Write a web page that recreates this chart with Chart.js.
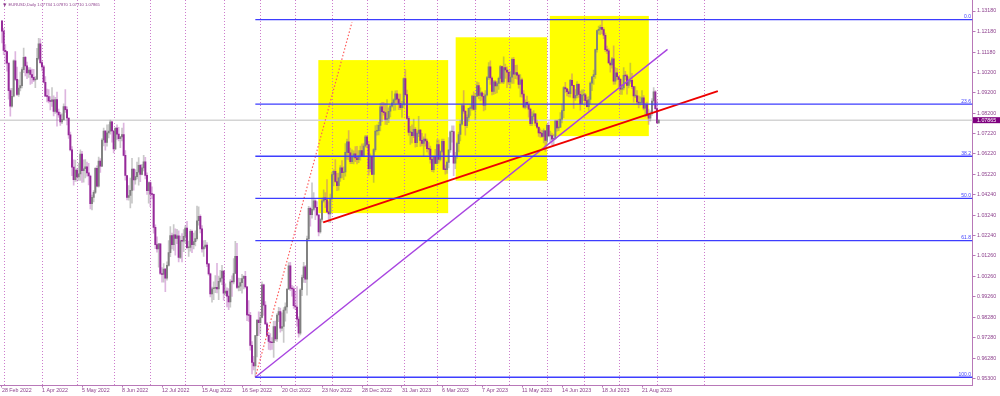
<!DOCTYPE html>
<html>
<head>
<meta charset="utf-8">
<title>EURUSD Daily</title>
<script src="https://cdn.jsdelivr.net/npm/chart.js@4.4.1/dist/chart.umd.min.js"></script>
<style>
  html, body { margin: 0; padding: 0; background: #ffffff; }
  canvas { display: block; }
</style>
</head>
<body>
<canvas id="chart" width="1000" height="396"></canvas>
<script>
// EURUSD, Daily  (28 Feb 2022 - 4 Sep 2023), one line per week

const opens = [
  1.1270, 1.1220, 1.1126, 1.1120, 1.1064,
  1.0930, 1.0855, 1.0903, 1.1075, 1.0985,
  1.0912, 1.0943, 1.0955, 1.1033, 1.1092,
  1.1051, 1.1016, 1.1030, 1.1009, 1.0995,
  1.0983, 1.0986, 1.1087, 1.1158, 1.1067,
  1.1046, 1.0971, 1.0903, 1.0902, 1.0880,
  1.0878, 1.0885, 1.0829, 1.0887, 1.0826,
  1.0812, 1.0778, 1.0789, 1.0853, 1.0838,
  1.0797, 1.0715, 1.0642, 1.0558, 1.0497,
  1.0544, 1.0510, 1.0525, 1.0622, 1.0541,
  1.0550, 1.0560, 1.0530, 1.0515, 1.0380,
  1.0411, 1.0435, 1.0552, 1.0465, 1.0587,
  1.0563, 1.0690, 1.0733, 1.0678, 1.0725,
  1.0733, 1.0778, 1.0734, 1.0647, 1.0748,
  1.0719, 1.0697, 1.0705, 1.0716, 1.0615,
  1.0517, 1.0411, 1.0420, 1.0445, 1.0548,
  1.0496, 1.0512, 1.0533, 1.0567, 1.0522,
  1.0554, 1.0584, 1.0518, 1.0443, 1.0483,
  1.0426, 1.0425, 1.0265, 1.0181, 1.0160,
  1.0185, 1.0040, 1.0036, 1.0062, 1.0018,
  1.0080, 1.0142, 1.0225, 1.0180, 1.0228,
  1.0211, 1.0223, 1.0119, 1.0200, 1.0198,
  1.0221, 1.0261, 1.0166, 1.0167, 1.0246,
  1.0181, 1.0195, 1.0210, 1.0297, 1.0319,
  1.0257, 1.0160, 1.0170, 1.0178, 1.0087,
  1.0038, 0.9941, 0.9966, 0.9968, 0.9973,
  0.9965, 1.0002, 1.0018, 1.0052, 0.9944,
  0.9954, 0.9930, 0.9902, 1.0000, 0.9999,
  1.0040, 1.0124, 0.9972, 0.9979, 0.9996,
  1.0016, 1.0026, 0.9975, 0.9839, 0.9836,
  0.9690, 0.9607, 0.9590, 0.9738, 0.9814,
  0.9801, 0.9826, 0.9985, 0.9886, 0.9795,
  0.9739, 0.9709, 0.9705, 0.9703, 0.9782,
  0.9722, 0.9838, 0.9855, 0.9774, 0.9782,
  0.9862, 0.9878, 0.9964, 1.0077, 0.9967,
  0.9965, 0.9883, 0.9877, 0.9818, 0.9750,
  0.9961, 1.0020, 1.0073, 1.0013, 1.0209,
  1.0357, 1.0326, 1.0352, 1.0394, 1.0362,
  1.0325, 1.0243, 1.0303, 1.0394, 1.0408,
  1.0399, 1.0340, 1.0330, 1.0405, 1.0522,
  1.0537, 1.0488, 1.0468, 1.0506, 1.0555,
  1.0531, 1.0535, 1.0630, 1.0681, 1.0628,
  1.0584, 1.0606, 1.0623, 1.0603, 1.0594,
  1.0613, 1.0638, 1.0611, 1.0661,
  1.0705, 1.0668, 1.0550, 1.0606, 1.0523,
  1.0643, 1.0733, 1.0736, 1.0761, 1.0852,
  1.0828, 1.0823, 1.0790, 1.0795, 1.0830,
  1.0855, 1.0871, 1.0885, 1.0915, 1.0889,
  1.0868, 1.0848, 1.0863, 1.0989, 1.0911,
  1.0795, 1.0727, 1.0727, 1.0711, 1.0742,
  1.0677, 1.0722, 1.0738, 1.0688, 1.0673,
  1.0694, 1.0685, 1.0648, 1.0646, 1.0596,
  1.0546, 1.0606, 1.0576, 1.0668, 1.0596,
  1.0634, 1.0683, 1.0547, 1.0546, 1.0581,
  1.0642, 1.0730, 1.0731, 1.0577, 1.0610,
  1.0672, 1.0717, 1.0767, 1.0857, 1.0830,
  1.0760, 1.0800, 1.0844, 1.0844, 1.0904,
  1.0839, 1.0903, 1.0955, 1.0907, 1.0920,
  1.0903, 1.0860, 1.0910, 1.0994, 1.1046,
  1.0992, 1.0927, 1.0973, 1.0953, 1.0965,
  1.0990, 1.1048, 1.0973, 1.1043, 1.1031,
  1.1020, 1.0973, 1.0996, 1.1083, 1.1010,
  1.1018, 1.1006, 1.0961, 1.0983, 1.0914,
  1.0850, 1.0873, 1.0862, 1.0840, 1.0769,
  1.0805, 1.0817, 1.0772, 1.0752, 1.0725,
  1.0723, 1.0707, 1.0735, 1.0688, 1.0762,
  1.0710, 1.0712, 1.0694, 1.0698, 1.0782,
  1.0749, 1.0752, 1.0792, 1.0833, 1.0945,
  1.0939, 1.0925, 1.0915, 1.0980, 1.0956,
  1.0895, 1.0907, 1.0961, 1.0912, 1.0867,
  1.0908, 1.0910, 1.0882, 1.0852, 1.0887,
  1.0967, 1.0998, 1.1008, 1.1130, 1.1223,
  1.1229, 1.1238, 1.1228, 1.1200, 1.1130,
  1.1124, 1.1065, 1.1056, 1.1085, 1.0976,
  1.1017, 1.0998, 1.0985, 1.0938, 1.0943,
  1.1005, 1.1002, 1.0956, 1.0975, 1.0980,
  1.0950, 1.0905, 1.0905, 1.0875, 1.0870,
  1.0872, 1.0895, 1.0845, 1.0862, 1.0810,
  1.0796, 1.0818, 1.0880, 1.0924, 1.0843,
  1.07734
];

const highs = [
  1.1270, 1.1234, 1.1154, 1.1122, 1.1065,
  1.0940, 1.0942, 1.1080, 1.1121, 1.1045,
  1.0983, 1.1021, 1.1043, 1.1138, 1.1097,
  1.1069, 1.1043, 1.1043, 1.1035, 1.1034,
  1.0999, 1.1136, 1.1185, 1.1183, 1.1075,
  1.1053, 1.0999, 1.0938, 1.0936, 1.0901,
  1.0945, 1.0905, 1.0898, 1.0923, 1.0840,
  1.0825, 1.0817, 1.0866, 1.0936, 1.0851,
  1.0797, 1.0728, 1.0658, 1.0594, 1.0592,
  1.0551, 1.0578, 1.0642, 1.0635, 1.0593,
  1.0595, 1.0583, 1.0577, 1.0519, 1.0422,
  1.0444, 1.0556, 1.0564, 1.0607, 1.0599,
  1.0697, 1.0748, 1.0737, 1.0764, 1.0765,
  1.0787, 1.0781, 1.0737, 1.0749, 1.0764,
  1.0752, 1.0708, 1.0748, 1.0773, 1.0638,
  1.0517, 1.0468, 1.0505, 1.0601, 1.0550,
  1.0546, 1.0583, 1.0605, 1.0572, 1.0572,
  1.0615, 1.0606, 1.0530, 1.0487, 1.0487,
  1.0462, 1.0428, 1.0277, 1.0219, 1.0186,
  1.0185, 1.0069, 1.0089, 1.0065, 1.0097,
  1.0200, 1.0268, 1.0237, 1.0278, 1.0257,
  1.0255, 1.0248, 1.0222, 1.0234, 1.0254,
  1.0274, 1.0294, 1.0198, 1.0254, 1.0252,
  1.0237, 1.0248, 1.0368, 1.0365, 1.0326,
  1.0274, 1.0200, 1.0202, 1.0191, 1.0090,
  1.0042, 0.9974, 0.9999, 1.0030, 1.0090,
  1.0028, 1.0055, 1.0080, 1.0054, 0.9990,
  0.9970, 0.9967, 1.0010, 1.0029, 1.0113,
  1.0197, 1.0187, 1.0018, 1.0017, 1.0036,
  1.0030, 1.0051, 0.9976, 0.9908, 0.9851,
  0.9709, 0.9637, 0.9739, 0.9815, 0.9854,
  0.9852, 0.9999, 0.9989, 0.9904, 0.9802,
  0.9754, 0.9748, 0.9728, 0.9807, 0.9808,
  0.9845, 0.9875, 0.9872, 0.9849, 0.9874,
  0.9897, 0.9965, 1.0093, 1.0094, 0.9983,
  0.9976, 0.9954, 0.9976, 0.9829, 0.9967,
  1.0033, 1.0095, 1.0080, 1.0222, 1.0367,
  1.0363, 1.0481, 1.0434, 1.0400, 1.0390,
  1.0330, 1.0307, 1.0407, 1.0448, 1.0434,
  1.0497, 1.0390, 1.0427, 1.0533, 1.0545,
  1.0595, 1.0528, 1.0529, 1.0565, 1.0590,
  1.0560, 1.0673, 1.0695, 1.0736, 1.0651,
  1.0642, 1.0637, 1.0658, 1.0659, 1.0638,
  1.0660, 1.0671, 1.0673, 1.0713,
  1.0713, 1.0684, 1.0623, 1.0612, 1.0648,
  1.0760, 1.0764, 1.0776, 1.0868, 1.0874,
  1.0874, 1.0869, 1.0887, 1.0847, 1.0860,
  1.0928, 1.0890, 1.0929, 1.0930, 1.0913,
  1.0914, 1.0878, 1.0993, 1.1033, 1.0933,
  1.0805, 1.0756, 1.0764, 1.0792, 1.0750,
  1.0730, 1.0805, 1.0742, 1.0722, 1.0705,
  1.0720, 1.0694, 1.0677, 1.0660, 1.0612,
  1.0612, 1.0645, 1.0692, 1.0691, 1.0637,
  1.0694, 1.0695, 1.0568, 1.0587, 1.0702,
  1.0735, 1.0759, 1.0759, 1.0630, 1.0680,
  1.0729, 1.0787, 1.0862, 1.0930, 1.0835,
  1.0812, 1.0845, 1.0858, 1.0909, 1.0925,
  1.0916, 1.0973, 1.0969, 1.0944, 1.0926,
  1.0917, 1.0930, 1.1000, 1.1067, 1.1075,
  1.0997, 1.0980, 1.0980, 1.0975, 1.0996,
  1.1053, 1.1050, 1.1095, 1.1060, 1.1046,
  1.1030, 1.1023, 1.1090, 1.1092, 1.1054,
  1.1055, 1.1012, 1.1008, 1.0992, 1.0930,
  1.0885, 1.0904, 1.0877, 1.0845, 1.0827,
  1.0833, 1.0818, 1.0787, 1.0755, 1.0745,
  1.0737, 1.0745, 1.0736, 1.0768, 1.0779,
  1.0733, 1.0724, 1.0717, 1.0787, 1.0787,
  1.0791, 1.0823, 1.0865, 1.0950, 1.0971,
  1.0940, 1.0935, 1.0985, 1.1012, 1.0956,
  1.0935, 1.0975, 1.0965, 1.0928, 1.0934,
  1.0935, 1.0917, 1.0899, 1.0901, 1.0973,
  1.0999, 1.1030, 1.1133, 1.1225, 1.1245,
  1.1250, 1.1276, 1.1237, 1.1210, 1.1147,
  1.1134, 1.1075, 1.1092, 1.1149, 1.1043,
  1.1039, 1.1000, 1.0990, 1.0960, 1.1042,
  1.1024, 1.1010, 1.0997, 1.1065, 1.1015,
  1.0950, 1.0950, 1.0930, 1.0905, 1.0900,
  1.0930, 1.0906, 1.0870, 1.0875, 1.0840,
  1.0832, 1.0892, 1.0945, 1.0930, 1.0882,
  1.07870
];

const lows = [
  1.1163, 1.1105, 1.1060, 1.1025, 1.0889,
  1.0806, 1.0850, 1.0900, 1.0979, 1.0906,
  1.0902, 1.0929, 1.0944, 1.1018, 1.1002,
  1.0988, 1.0995, 1.0961, 1.0966, 1.0974,
  1.0945, 1.0984, 1.1080, 1.1060, 1.1027,
  1.0968, 1.0902, 1.0875, 1.0870, 1.0837,
  1.0853, 1.0807, 1.0820, 1.0757, 1.0800,
  1.0761, 1.0770, 1.0787, 1.0824, 1.0764,
  1.0698, 1.0637, 1.0516, 1.0470, 1.0489,
  1.0490, 1.0493, 1.0493, 1.0483, 1.0485,
  1.0506, 1.0514, 1.0471, 1.0354, 1.0350,
  1.0389, 1.0429, 1.0462, 1.0460, 1.0532,
  1.0560, 1.0661, 1.0640, 1.0660, 1.0700,
  1.0719, 1.0679, 1.0627, 1.0643, 1.0693,
  1.0685, 1.0653, 1.0686, 1.0613, 1.0495,
  1.0398, 1.0397, 1.0359, 1.0382, 1.0446,
  1.0475, 1.0500, 1.0470, 1.0487, 1.0520,
  1.0540, 1.0500, 1.0425, 1.0383, 1.0366,
  1.0405, 1.0236, 1.0161, 1.0144, 1.0071,
  1.0034, 0.9998, 0.9998, 0.9952, 1.0008,
  1.0076, 1.0122, 1.0160, 1.0153, 1.0129,
  1.0185, 1.0097, 1.0112, 1.0096, 1.0146,
  1.0188, 1.0160, 1.0123, 1.0149, 1.0141,
  1.0160, 1.0175, 1.0202, 1.0276, 1.0238,
  1.0144, 1.0123, 1.0162, 1.0074, 1.0032,
  0.9926, 0.9901, 0.9913, 0.9947, 0.9946,
  0.9913, 0.9997, 0.9986, 0.9910, 0.9932,
  0.9877, 0.9864, 0.9876, 0.9929, 0.9990,
  1.0040, 0.9966, 0.9955, 0.9956, 0.9945,
  0.9965, 0.9969, 0.9811, 0.9807, 0.9667,
  0.9551, 0.9571, 0.9535, 0.9634, 0.9738,
  0.9750, 0.9824, 0.9836, 0.9792, 0.9739,
  0.9670, 0.9668, 0.9670, 0.9632, 0.9713,
  0.9710, 0.9806, 0.9755, 0.9761, 0.9705,
  0.9808, 0.9847, 0.9963, 0.9957, 0.9930,
  0.9870, 0.9864, 0.9784, 0.9730, 0.9741,
  0.9932, 0.9997, 0.9995, 0.9935, 1.0200,
  1.0271, 1.0310, 1.0345, 1.0302, 1.0320,
  1.0223, 1.0237, 1.0290, 1.0387, 1.0361,
  1.0338, 1.0290, 1.0288, 1.0398, 1.0466,
  1.0484, 1.0443, 1.0446, 1.0488, 1.0505,
  1.0497, 1.0514, 1.0595, 1.0593, 1.0575,
  1.0575, 1.0574, 1.0585, 1.0573, 1.0580,
  1.0592, 1.0610, 1.0608, 1.0655,
  1.0653, 1.0519, 1.0535, 1.0521, 1.0483,
  1.0634, 1.0714, 1.0715, 1.0734, 1.0779,
  1.0811, 1.0766, 1.0765, 1.0774, 1.0802,
  1.0850, 1.0834, 1.0835, 1.0866, 1.0838,
  1.0838, 1.0800, 1.0848, 1.0905, 1.0790,
  1.0712, 1.0669, 1.0676, 1.0701, 1.0655,
  1.0657, 1.0706, 1.0659, 1.0661, 1.0613,
  1.0660, 1.0632, 1.0620, 1.0577, 1.0536,
  1.0533, 1.0575, 1.0573, 1.0577, 1.0588,
  1.0630, 1.0545, 1.0524, 1.0527, 1.0554,
  1.0630, 1.0680, 1.0516, 1.0550, 1.0600,
  1.0632, 1.0686, 1.0762, 1.0820, 1.0713,
  1.0750, 1.0780, 1.0810, 1.0835, 1.0835,
  1.0788, 1.0901, 1.0890, 1.0880, 1.0884,
  1.0831, 1.0836, 1.0905, 1.0984, 1.0960,
  1.0910, 1.0912, 1.0915, 1.0919, 1.0936,
  1.0965, 1.0966, 1.0964, 1.0990, 1.0945,
  1.0961, 1.0942, 1.0965, 1.0965, 1.0989,
  1.0986, 1.0942, 1.0900, 1.0899, 1.0845,
  1.0841, 1.0848, 1.0801, 1.0760, 1.0760,
  1.0785, 1.0760, 1.0747, 1.0707, 1.0702,
  1.0703, 1.0676, 1.0635, 1.0665, 1.0705,
  1.0676, 1.0666, 1.0667, 1.0693, 1.0733,
  1.0736, 1.0750, 1.0773, 1.0799, 1.0922,
  1.0905, 1.0900, 1.0898, 1.0955, 1.0844,
  1.0883, 1.0895, 1.0897, 1.0835, 1.0865,
  1.0881, 1.0869, 1.0851, 1.0834, 1.0867,
  1.0930, 1.0960, 1.0990, 1.1118, 1.1205,
  1.1203, 1.1208, 1.1183, 1.1120, 1.1110,
  1.1064, 1.1020, 1.1040, 1.0960, 1.0962,
  1.0983, 1.0950, 1.0912, 1.0912, 1.0934,
  1.0984, 1.0913, 1.0944, 1.0965, 1.0940,
  1.0874, 1.0896, 1.0867, 1.0846, 1.0860,
  1.0863, 1.0836, 1.0802, 1.0806, 1.0766,
  1.0782, 1.0810, 1.0860, 1.0835, 1.0771,
  1.07710
];

const closes = [
  1.1220, 1.1126, 1.1120, 1.1064, 1.0930,
  1.0855, 1.0903, 1.1075, 1.0985, 1.0912,
  1.0943, 1.0955, 1.1033, 1.1092, 1.1051,
  1.1016, 1.1030, 1.1009, 1.0995, 1.0983,
  1.0986, 1.1087, 1.1158, 1.1067, 1.1046,
  1.0971, 1.0903, 1.0902, 1.0880, 1.0878,
  1.0885, 1.0829, 1.0887, 1.0826, 1.0812,
  1.0778, 1.0789, 1.0853, 1.0838, 1.0797,
  1.0715, 1.0642, 1.0558, 1.0497, 1.0544,
  1.0510, 1.0525, 1.0622, 1.0541, 1.0550,
  1.0560, 1.0530, 1.0515, 1.0380, 1.0411,
  1.0435, 1.0552, 1.0465, 1.0587, 1.0563,
  1.0690, 1.0733, 1.0678, 1.0725, 1.0733,
  1.0778, 1.0734, 1.0647, 1.0748, 1.0719,
  1.0697, 1.0705, 1.0716, 1.0615, 1.0517,
  1.0411, 1.0420, 1.0445, 1.0548, 1.0496,
  1.0512, 1.0533, 1.0567, 1.0522, 1.0554,
  1.0584, 1.0518, 1.0443, 1.0483, 1.0426,
  1.0425, 1.0265, 1.0181, 1.0160, 1.0185,
  1.0040, 1.0036, 1.0062, 1.0018, 1.0080,
  1.0142, 1.0225, 1.0180, 1.0228, 1.0211,
  1.0223, 1.0119, 1.0200, 1.0198, 1.0221,
  1.0261, 1.0166, 1.0167, 1.0246, 1.0181,
  1.0195, 1.0210, 1.0297, 1.0319, 1.0257,
  1.0160, 1.0170, 1.0178, 1.0087, 1.0038,
  0.9941, 0.9966, 0.9968, 0.9973, 0.9965,
  1.0002, 1.0018, 1.0052, 0.9944, 0.9954,
  0.9930, 0.9902, 1.0000, 0.9999, 1.0040,
  1.0124, 0.9972, 0.9979, 0.9996, 1.0016,
  1.0026, 0.9975, 0.9839, 0.9836, 0.9690,
  0.9607, 0.9590, 0.9738, 0.9814, 0.9801,
  0.9826, 0.9985, 0.9886, 0.9795, 0.9739,
  0.9709, 0.9705, 0.9703, 0.9782, 0.9722,
  0.9838, 0.9855, 0.9774, 0.9782, 0.9862,
  0.9878, 0.9964, 1.0077, 0.9967, 0.9965,
  0.9883, 0.9877, 0.9818, 0.9750, 0.9961,
  1.0020, 1.0073, 1.0013, 1.0209, 1.0357,
  1.0326, 1.0352, 1.0394, 1.0362, 1.0325,
  1.0243, 1.0303, 1.0394, 1.0408, 1.0399,
  1.0340, 1.0330, 1.0405, 1.0522, 1.0537,
  1.0488, 1.0468, 1.0506, 1.0555, 1.0531,
  1.0535, 1.0630, 1.0681, 1.0628, 1.0584,
  1.0606, 1.0623, 1.0603, 1.0594, 1.0613,
  1.0638, 1.0611, 1.0661, 1.0705,
  1.0668, 1.0550, 1.0606, 1.0523, 1.0643,
  1.0733, 1.0736, 1.0761, 1.0852, 1.0828,
  1.0823, 1.0790, 1.0795, 1.0830, 1.0855,
  1.0871, 1.0885, 1.0915, 1.0889, 1.0868,
  1.0848, 1.0863, 1.0989, 1.0911, 1.0795,
  1.0727, 1.0727, 1.0711, 1.0742, 1.0677,
  1.0722, 1.0738, 1.0688, 1.0673, 1.0694,
  1.0685, 1.0648, 1.0646, 1.0596, 1.0546,
  1.0606, 1.0576, 1.0668, 1.0596, 1.0634,
  1.0683, 1.0547, 1.0546, 1.0581, 1.0642,
  1.0730, 1.0731, 1.0577, 1.0610, 1.0672,
  1.0717, 1.0767, 1.0857, 1.0830, 1.0760,
  1.0800, 1.0844, 1.0844, 1.0904, 1.0839,
  1.0903, 1.0955, 1.0907, 1.0920, 1.0903,
  1.0860, 1.0910, 1.0994, 1.1046, 1.0992,
  1.0927, 1.0973, 1.0953, 1.0965, 1.0990,
  1.1048, 1.0973, 1.1043, 1.1031, 1.1020,
  1.0973, 1.0996, 1.1083, 1.1010, 1.1018,
  1.1006, 1.0961, 1.0983, 1.0914, 1.0850,
  1.0873, 1.0862, 1.0840, 1.0769, 1.0805,
  1.0817, 1.0772, 1.0752, 1.0725, 1.0723,
  1.0707, 1.0735, 1.0688, 1.0762, 1.0710,
  1.0712, 1.0694, 1.0698, 1.0782, 1.0749,
  1.0752, 1.0792, 1.0833, 1.0945, 1.0939,
  1.0925, 1.0915, 1.0980, 1.0956, 1.0895,
  1.0907, 1.0961, 1.0912, 1.0867, 1.0908,
  1.0910, 1.0882, 1.0852, 1.0887, 1.0967,
  1.0998, 1.1008, 1.1130, 1.1223, 1.1229,
  1.1238, 1.1228, 1.1200, 1.1130, 1.1124,
  1.1065, 1.1056, 1.1085, 1.0976, 1.1017,
  1.0998, 1.0985, 1.0938, 1.0943, 1.1005,
  1.1002, 1.0956, 1.0975, 1.0980, 1.0950,
  1.0905, 1.0905, 1.0875, 1.0870, 1.0872,
  1.0895, 1.0845, 1.0862, 1.0810, 1.0796,
  1.0818, 1.0880, 1.0924, 1.0843, 1.0773,
  1.07865
];

// time axis: bar index of each label, and the labels
const dateTickBars = [0, 24, 48, 72, 96, 120, 144, 168, 192, 216, 240, 264, 288, 312, 336, 360, 384];
const dateLabels = ['28 Feb 2022', '1 Apr 2022', '5 May 2022', '8 Jun 2022', '12 Jul 2022', '15 Aug 2022',
  '16 Sep 2022', '20 Oct 2022', '23 Nov 2022', '28 Dec 2022', '31 Jan 2023', '6 Mar 2023', '7 Apr 2023',
  '11 May 2023', '14 Jun 2023', '18 Jul 2023', '21 Aug 2023'];

// first bar of each month (period separators) + one extra vertical line
const monthStarts = [1, 24, 45, 67, 89, 110, 133, 155, 176, 198, 219, 241, 261, 284, 304, 327, 349, 370, 393, 421];

// price axis ticks
const priceTicks = [1.13180, 1.12180, 1.11180, 1.10200, 1.09200, 1.08200, 1.07220, 1.06220, 1.05220, 1.04240,
  1.03240, 1.02240, 1.01260, 1.00260, 0.99260, 0.98280, 0.97280, 0.96280, 0.95300];

// fibonacci retracement (0.9535 low -> 1.1276 high)
const fibNames = ['0.0', '23.6', '38.2', '50.0', '61.8', '100.0'];
const fibPrices = [1.1276, 1.0865, 1.0611, 1.0406, 1.0200, 0.9535];
const fibStartBar = 152;

// yellow boxes: [bar from, bar to, price low, price high]
const boxes = [
  [189.8, 267.7, 1.0334, 1.1079],
  [272.2, 327.1, 1.0492, 1.1190],
  [328.7, 388.1, 1.0709, 1.1294]
];

// trendlines: two points each (bar, price)
const redLine = [[192.7, 1.0289], [429.5, 1.0928]];
const purpleLine = [[152, 0.9535], [399.3, 1.1131]];
const dottedLine = [[152, 0.9535], [210, 1.1264]];

const symbolTitle = 'EURUSD,Daily';

// ---- styles / layout ----
const X_MIN = -1.2, X_MAX = 582.3;
const Y_MIN = 0.949494, Y_MAX = 1.137155;
const AXIS = '#b878b8';
const TEXT = '#8c3f8c';
const BEAR = '#962a9a';
const BULL = '#808080';
const BEAR_WICK = 'rgba(170, 70, 175, 0.4)';
const BULL_WICK = 'rgba(120, 120, 120, 0.4)';
const FIB = '#3d3dff';

Chart.defaults.font.family = '"Liberation Sans", Arial, sans-serif';

const N = closes.length;
const bars = closes.map((c, i) => i);
const bear = bars.map(i => closes[i] < opens[i]);
const toXY = pts => pts.map(p => ({ x: p[0], y: p[1] }));

const fibDatasets = fibPrices.map(p => ({
  type: 'line',
  data: [{ x: fibStartBar, y: p }, { x: X_MAX, y: p }],
  borderColor: FIB,
  borderWidth: 1.3,
  pointRadius: 0,
  order: 0
}));

// background: boxes, month separators, bid line
const backgroundPlugin = {
  id: 'background',
  beforeDatasetsDraw(chart) {
    const { ctx, chartArea: a, scales: { x, y } } = chart;
    ctx.save();
    ctx.beginPath();
    ctx.rect(a.left, a.top, a.right - a.left, a.bottom - a.top);
    ctx.clip();

    ctx.fillStyle = '#ffff00';
    boxes.forEach(b => {
      const x0 = x.getPixelForValue(b[0]), x1 = x.getPixelForValue(b[1]);
      const y0 = y.getPixelForValue(b[3]), y1 = y.getPixelForValue(b[2]);
      ctx.fillRect(x0, y0, x1 - x0, y1 - y0);
    });

    ctx.strokeStyle = 'rgba(200, 110, 200, 0.9)';
    ctx.lineWidth = 1;
    ctx.setLineDash([1, 2]);
    monthStarts.forEach(m => {
      const px = Math.round(x.getPixelForValue(m)) + 0.5;
      ctx.beginPath();
      ctx.moveTo(px, a.top);
      ctx.lineTo(px, a.bottom);
      ctx.stroke();
    });
    ctx.setLineDash([]);

    const py = y.getPixelForValue(closes[N - 1]);
    ctx.strokeStyle = '#d4d4d4';
    ctx.lineWidth = 1.4;
    ctx.beginPath();
    ctx.moveTo(a.left, py);
    ctx.lineTo(a.right, py);
    ctx.stroke();
    ctx.restore();
  }
};

// texts: title, fibo level names, bid price box
const overlayPlugin = {
  id: 'overlay',
  afterDraw(chart) {
    const { ctx, chartArea: a, scales: { y } } = chart;
    ctx.save();

    // title
    ctx.fillStyle = TEXT;
    ctx.beginPath();
    ctx.moveTo(3, 3.5);
    ctx.lineTo(6.5, 3.5);
    ctx.lineTo(4.75, 6.5);
    ctx.closePath();
    ctx.fill();
    ctx.font = '4.1px "Liberation Sans", Arial, sans-serif';
    ctx.textBaseline = 'middle';
    ctx.textAlign = 'left';
    const last = N - 1;
    const title = symbolTitle + ' ' + [opens[last], highs[last], lows[last], closes[last]].map(v => v.toFixed(5)).join(' ');
    ctx.fillText(title, 8.5, 5.2);

    // fibo level names
    ctx.fillStyle = FIB;
    ctx.font = '5px "Liberation Sans", Arial, sans-serif';
    ctx.textAlign = 'right';
    ctx.textBaseline = 'bottom';
    fibPrices.forEach((p, i) => {
      ctx.fillText(fibNames[i], a.right - 1.5, y.getPixelForValue(p) - 0.3);
    });

    // bid price label
    const py = y.getPixelForValue(closes[last]);
    ctx.fillStyle = '#7f007f';
    ctx.fillRect(a.right + 0.5, py - 3, 27, 6);
    ctx.fillStyle = '#ffffff';
    ctx.font = '5.3px "Liberation Sans", Arial, sans-serif';
    ctx.textAlign = 'left';
    ctx.textBaseline = 'middle';
    ctx.fillText(closes[last].toFixed(5), a.right + 4.5, py + 0.2);
    ctx.restore();
  }
};

new Chart(document.getElementById('chart'), {
  type: 'bar',
  data: {
    datasets: [
      ...fibDatasets,
      {
        type: 'line',
        data: toXY(redLine),
        borderColor: '#ee0000',
        borderWidth: 2,
        pointRadius: 0,
        order: 0
      },
      {
        type: 'line',
        data: toXY(purpleLine),
        borderColor: '#a844e0',
        borderWidth: 1.4,
        pointRadius: 0,
        order: 0
      },
      {
        type: 'line',
        data: toXY(dottedLine),
        borderColor: '#ff5c5c',
        borderWidth: 1.2,
        borderDash: [1.5, 2],
        pointRadius: 0,
        order: 0
      },
      {
        label: 'wicks',
        data: bars.map(i => ({ x: i, y: [lows[i], highs[i]] })),
        backgroundColor: bars.map(i => bear[i] ? BEAR_WICK : BULL_WICK),
        barThickness: 1,
        grouped: false,
        order: 3
      },
      {
        label: 'bodies',
        data: bars.map(i => ({ x: i, y: [opens[i], closes[i]] })),
        backgroundColor: bars.map(i => bear[i] ? BEAR : BULL),
        barThickness: 1.3,
        minBarLength: 0.8,
        grouped: false,
        order: 2
      }
    ]
  },
  options: {
    responsive: false,
    animation: false,
    devicePixelRatio: 1,
    layout: { padding: 0 },
    events: [],
    plugins: {
      legend: { display: false },
      tooltip: { enabled: false }
    },
    scales: {
      x: {
        type: 'linear',
        min: X_MIN,
        max: X_MAX,
        offset: false,
        grid: { drawOnChartArea: false, tickLength: 2, color: AXIS, offset: false },
        border: { color: AXIS, width: 1 },
        ticks: {
          autoSkip: false,
          maxRotation: 0,
          align: 'start',
          padding: 0,
          color: TEXT,
          font: { size: 5.3 },
          callback: (v, i) => dateLabels[i]
        },
        afterBuildTicks: s => { s.ticks = dateTickBars.map(v => ({ value: v })); },
        afterFit: s => { s.height = 10.5; s.paddingLeft = 0; s.paddingRight = 0; }
      },
      y: {
        position: 'right',
        min: Y_MIN,
        max: Y_MAX,
        grid: { drawOnChartArea: false, tickLength: 3, color: AXIS },
        border: { color: AXIS, width: 1 },
        ticks: {
          padding: 1.5,
          color: TEXT,
          font: { size: 5.3 },
          callback: v => v.toFixed(5)
        },
        afterBuildTicks: s => { s.ticks = priceTicks.map(v => ({ value: v })); },
        afterFit: s => { s.width = 27.5; s.paddingTop = 0; s.paddingBottom = 0; }
      }
    }
  },
  plugins: [backgroundPlugin, overlayPlugin]
});
</script>
</body>
</html>
